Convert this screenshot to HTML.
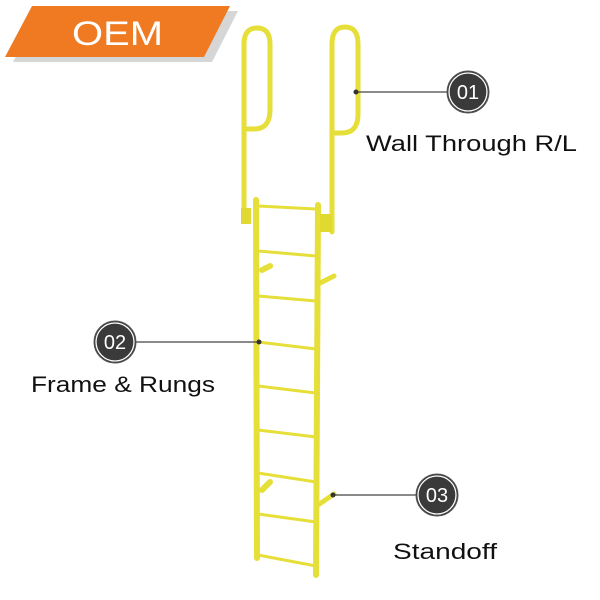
<!DOCTYPE html>
<html><head><style>
html,body{margin:0;padding:0;background:#fff;}
svg{display:block;}
text{font-family:"Liberation Sans",sans-serif;}
</style></head><body>
<svg width="600" height="600" viewBox="0 0 600 600" xmlns="http://www.w3.org/2000/svg">
<rect width="600" height="600" fill="#fff"/>
<!-- banner -->
<polygon points="40,11 238,11 212,62 13,62" fill="#d6d6d6"/>
<polygon points="32,6 230,6 204,57 5,57" fill="#ef7a22"/>
<text x="72" y="45" font-size="34" fill="#fff" textLength="91" lengthAdjust="spacingAndGlyphs">OEM</text>

<g fill="none" stroke="#e6df3a" stroke-linecap="round">
<!-- left loop -->
<path d="M244,220 L244,44 Q244,28 257,28 Q270,28 270,44 L270,110 Q270,129 254,129 L245,129" stroke-width="5"/>
<!-- right loop -->
<path d="M332,232 L332,44 Q332,27 345,27 Q358,27 358,44 L358,114 Q358,133 342,133 L333,133" stroke-width="5"/>
<!-- rails -->
<line x1="256" y1="200" x2="257" y2="558" stroke-width="6"/>
<line x1="318" y1="205" x2="316" y2="575" stroke-width="6"/>
<!-- rungs -->
<g stroke-width="3">
<line x1="258" y1="206" x2="316" y2="209"/>
<line x1="258" y1="251" x2="316" y2="256"/>
<line x1="258" y1="296" x2="316" y2="301"/>
<line x1="258" y1="342" x2="316" y2="349"/>
<line x1="258" y1="386" x2="316" y2="393"/>
<line x1="258" y1="430" x2="316" y2="437"/>
<line x1="258" y1="473" x2="316" y2="482"/>
<line x1="258" y1="514" x2="316" y2="522"/>
<line x1="258" y1="555" x2="316" y2="566"/>
</g>
<!-- standoffs -->
<path d="M318,284 L334,276" stroke-width="5"/>
<path d="M262,270 L270,266" stroke-width="6"/>
<path d="M318,505 L334,494" stroke-width="5"/>
<path d="M262,490 L270,482" stroke-width="6"/>
</g>
<rect x="241" y="208" width="10" height="16" fill="#e0da30"/>
<rect x="320" y="214" width="12" height="18" fill="#e0da30"/>

<!-- callouts -->
<g stroke="#444" stroke-width="1.3">
<line x1="356" y1="92" x2="448" y2="92"/>
<line x1="136" y1="342" x2="259" y2="342"/>
<line x1="333" y1="495" x2="416" y2="495"/>
</g>
<g fill="#333">
<circle cx="356" cy="92" r="2.5"/><circle cx="259" cy="342" r="2.5"/><circle cx="333" cy="495" r="2.5"/>
</g>
<g>
<circle cx="468" cy="92" r="21" fill="#3a3a3a" stroke="#555" stroke-width="1"/>
<circle cx="468" cy="92" r="19" fill="none" stroke="#fff" stroke-width="1.3"/>
<circle cx="115" cy="342" r="21" fill="#3a3a3a" stroke="#555" stroke-width="1"/>
<circle cx="115" cy="342" r="19" fill="none" stroke="#fff" stroke-width="1.3"/>
<circle cx="437" cy="495" r="21" fill="#3a3a3a" stroke="#555" stroke-width="1"/>
<circle cx="437" cy="495" r="19" fill="none" stroke="#fff" stroke-width="1.3"/>
</g>
<g fill="#fff" font-size="20" text-anchor="middle">
<text x="468" y="99">01</text>
<text x="115" y="349">02</text>
<text x="437" y="502">03</text>
</g>
<g fill="#111" font-size="22">
<text x="366" y="151" textLength="211" lengthAdjust="spacingAndGlyphs">Wall Through R/L</text>
<text x="31" y="392" textLength="184" lengthAdjust="spacingAndGlyphs">Frame &amp; Rungs</text>
<text x="393" y="559" textLength="104" lengthAdjust="spacingAndGlyphs">Standoff</text>
</g>
</svg>
</body></html>
